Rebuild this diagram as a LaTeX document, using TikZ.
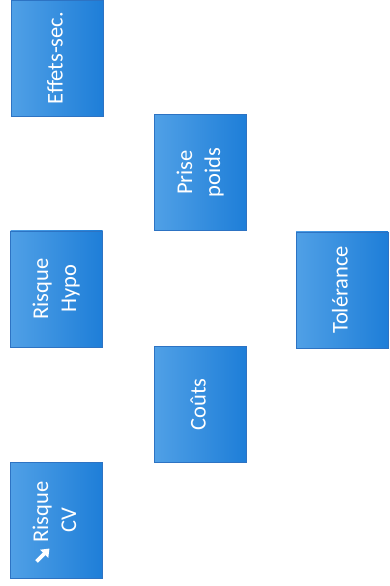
\documentclass[tikz,border=0pt]{standalone}
\usepackage{fontspec}
\usepackage{graphicx}
\usetikzlibrary{arrows.meta}
\setmainfont{Carlito}
\definecolor{boxlight}{RGB}{80,160,230}
\definecolor{boxdark}{RGB}{30,126,216}
\definecolor{boxedge}{RGB}{45,115,195}
\newcommand{\vlab}[1]{\rotatebox{90}{\fontsize{22.5}{28}\selectfont\begin{tabular}{@{}c@{}}#1\end{tabular}}}
\tikzset{
  bluebox/.style={rectangle, minimum width=92pt, minimum height=116pt, inner sep=0pt,
    left color=boxlight, right color=boxdark, draw=boxedge, line width=0.4pt,
    text=white},
  trendarrow/.style={white, line width=3.8pt, -{Triangle[length=7.5pt,width=11pt]}}
}
\begin{document}
\begin{tikzpicture}[x=1pt,y=1pt]
\useasboundingbox (0,0) rectangle (390,586);
\fill[white] (0,0) rectangle (390,586);
\node[bluebox] (effets) at (57,528) {\vlab{Effets-sec.}};
\node[bluebox] (hypo) at (56.5,297) {\vlab{Risque\\Hypo}};
\node[bluebox] (cv) at (56.5,65.5) {\vlab{\hspace*{17pt}Risque\\CV}};
\node[bluebox] (prise) at (200.5,413.5) {\vlab{Prise\\poids}};
\node[bluebox] (couts) at (200,181.5) {\vlab{Coûts}};
\node[bluebox] (tol) at (342,296) {\vlab{Tolérance}};
\coordinate (arrA) at (36.5,24.5);
\coordinate (arrB) at (49.5,37.5);
\draw[trendarrow] (arrA) -- (arrB);
\end{tikzpicture}
\end{document}
